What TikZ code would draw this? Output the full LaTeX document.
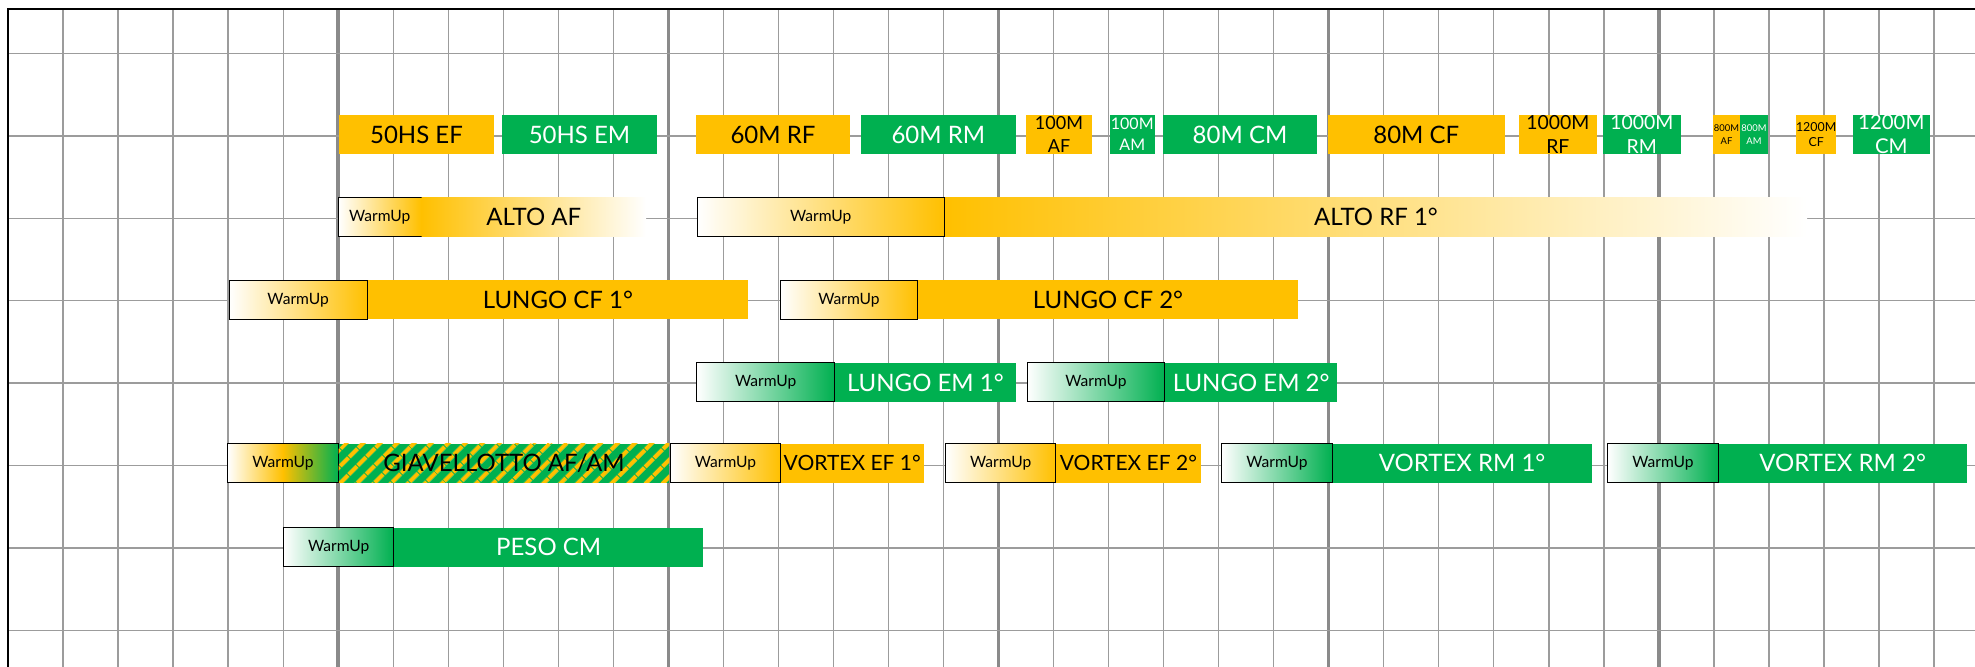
\documentclass[tikz,border=0pt]{standalone}
\usepackage{fontspec}
\setmainfont{Lato}
\usepackage{tikz}
\usetikzlibrary{positioning,patterns.meta}
\definecolor{athgold}{HTML}{FFC000}
\definecolor{athgreen}{HTML}{00B050}
\definecolor{gridgray}{HTML}{9C9C9C}
\definecolor{majorgray}{HTML}{8A8A8A}

\begin{document}
\begin{tikzpicture}[x=0.5pt,y=-0.5pt,
        gridline/.style={gridgray,line width=0.65pt},
        majorline/.style={majorgray,line width=1.75pt},
        wd/.style={minimum width=#1*0.5pt},
        event/.style={minimum height=19.5pt,inner sep=0pt,outer sep=0pt,font=\fontsize{12}{14}\selectfont},
        goldev/.style={event,fill=athgold,text=black},
        greenev/.style={event,fill=athgreen,text=white},
        fadeev/.style={event,left color=athgold,right color=white},
        stripeev/.style={event,preaction={fill=athgreen},pattern={Lines[angle=45,distance=6.5pt,line width=2.3pt]},pattern color=athgold},
        twoline/.style 2 args={align=center,font=\fontsize{#1}{#2}\selectfont},
        warmup/.style={event,draw=black,line width=0.5pt,outer sep=0.25pt,text=black,font=\fontsize{7.8}{9}\selectfont},
        warmgold/.style={warmup,left color=white,right color=athgold},
        warmgreen/.style={warmup,left color=white,right color=athgreen},
        warmmix/.style={warmup,left color=white,right color=athgreen,middle color=athgold}]
            \useasboundingbox (0,0) rectangle (1975,667);
            \foreach \i in {0,...,35}
                \draw[gridline] ({8+55.03*\i},9) -- ({8+55.03*\i},667);
            \foreach \i in {6,12,...,30}
                \draw[majorline] ({8+55.03*\i},9) -- ({8+55.03*\i},667);
            \foreach \j in {0,...,7}
                \draw[gridline] (8,{53.5+82.4*\j}) -- (1975,{53.5+82.4*\j});
            \draw[line width=1pt] (8,667) -- (8,9) -- (1975,9);

            \node[goldev,wd=155] (hsef) at (416.5,134.5) {50HS EF};
            \node[greenev,wd=155,right=4pt of hsef] (hsem) {50HS EM};
            \node[goldev,wd=154,right=19.5pt of hsem] (sxrf) {60M RF};
            \node[greenev,wd=154.6,right=5.5pt of sxrf] (sxrm) {60M RM};
            \node[goldev,wd=66,twoline={9}{11.5},right=5.2pt of sxrm] (hunaf) {100M\\AF};
            \node[greenev,wd=44.5,twoline={8}{10.5},right=9pt of hunaf] (hunam) {100M\\AM};
            \node[greenev,wd=154,right=4.25pt of hunam] (eicm) {80M CM};
            \node[goldev,wd=176.5,right=5.5pt of eicm] (eicf) {80M CF};
            \node[goldev,wd=77.6,twoline={9.7}{12},right=7.25pt of eicf] (kmrf) {1000M\\RF};
            \node[greenev,wd=77.5,twoline={9.7}{12},right=3.2pt of kmrf] (kmrm) {1000M\\RM};
            \node[goldev,wd=27,twoline={4.7}{6.5},right=16.25pt of kmrm] (ehaf) {800M\\AF};
            \node[greenev,wd=28,twoline={4.7}{6.5},right=0pt of ehaf] (eham) {800M\\AM};
            \node[goldev,wd=38.7,twoline={6.2}{7.8},right=14pt of eham] (twcf) {1200M\\CF};
            \node[greenev,wd=77.5,twoline={10.2}{12},right=8.15pt of twcf] (twcm) {1200M\\CM};

            \node[warmgold,wd=82.5,anchor=west] (wua) at (338,217) {WarmUp};
            \node[fadeev,wd=224.5,right=0pt of wua] (altaf) {ALTO AF};
            \node[warmgold,wd=247.5,right=25.25pt of altaf] (wub) {WarmUp};
            \node[fadeev,wd=862,right=0pt of wub] (altrf) {ALTO RF 1°};

            \node[warmgold,wd=138,anchor=west] (wuc) at (228.6,300) {WarmUp};
            \node[goldev,wd=380.5,right=0pt of wuc] (lcfa) {LUNGO CF 1°};
            \node[warmgold,wd=137.5,right=15.8pt of lcfa] (wud) {WarmUp};
            \node[goldev,wd=379.5,right=0pt of wud] (lcfb) {LUNGO CF 2°};

            \node[warmgreen,wd=137.7,anchor=west] (wue) at (696.3,382.5) {WarmUp};
            \node[greenev,wd=180.7,right=0pt of wue] (lema) {LUNGO EM 1°};
            \node[warmgreen,wd=137.6,right=5.5pt of lema] (wuf) {WarmUp};
            \node[greenev,wd=171.7,right=0pt of wuf] (lemb) {LUNGO EM 2°};

            \node[warmmix,wd=110.4,anchor=west] (wug) at (227.3,463.3) {WarmUp};
            \node[stripeev,wd=330.6,right=0pt of wug] (giav) {GIAVELLOTTO AF/AM};
            \node[warmgold,wd=110,right=0.3pt of giav] (wuh) {WarmUp};
            \node[goldev,wd=142.7,font=\fontsize{10.5}{12}\selectfont,right=0pt of wuh] (vefa) {VORTEX EF 1°};
            \node[warmgold,wd=110,right=10.8pt of vefa] (wui) {WarmUp};
            \node[goldev,wd=144.4,font=\fontsize{10.5}{12}\selectfont,right=0pt of wui] (vefb) {VORTEX EF 2°};
            \node[warmgreen,wd=110.4,right=10.3pt of vefb] (wuj) {WarmUp};
            \node[greenev,wd=259,right=0pt of wuj] (vrma) {VORTEX RM 1°};
            \node[warmgreen,wd=110.4,right=7.8pt of vrma] (wuk) {WarmUp};
            \node[greenev,wd=248,right=0pt of wuk] (vrmb) {VORTEX RM 2°};

            \node[warmgreen,wd=110,anchor=west] (wul) at (283.3,547.3) {WarmUp};
            \node[greenev,wd=308.7,right=0pt of wul] (peso) {PESO CM};
        \end{tikzpicture}
\end{document}
